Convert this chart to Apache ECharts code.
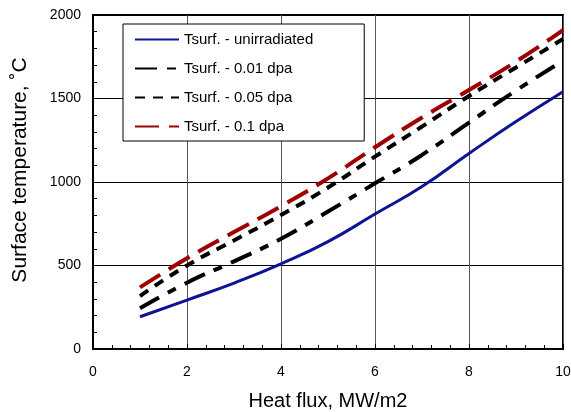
<!DOCTYPE html>
<html>
<head>
<meta charset="utf-8">
<script src="https://cdn.jsdelivr.net/npm/echarts@6/dist/echarts.min.js"></script>
<style>
	html, body { margin: 0; padding: 0; background: #fff; }
	#main { width: 571px; height: 412px; }
</style>
</head>
<body>
<div id="main"></div>
<script>
	// heat flux, MW/m2
	var heatFlux = [1, 2, 3, 4, 5, 6, 7, 8, 9, 10];
	// surface temperature, C
	var tUnirr = [193, 293, 395, 510, 643, 808, 973, 1171, 1362, 1541];
	var t001 = [244, 397, 525, 660, 823, 992, 1162, 1356, 1548, 1726];
	var t005 = [317, 500, 650, 802, 967, 1152, 1332, 1515, 1686, 1856];
	var t01 = [369, 543, 700, 855, 1022, 1208, 1386, 1551, 1721, 1910];
	var seriesNames = ['Tsurf. - unirradiated', 'Tsurf. - 0.01 dpa', 'Tsurf. - 0.05 dpa', 'Tsurf. - 0.1 dpa'];

	function pairs(ys) {
		return heatFlux.map(function (x, i) { return [x, ys[i]]; });
	}

	var myChart = echarts.init(document.getElementById('main'));

	var font = 'Liberation Sans, Arial, Helvetica, sans-serif';

	var option = {
		backgroundColor: '#fff',
		animation: false,
		textStyle: { fontFamily: font, color: '#000' },
		grid: {
			left: 93, right: 8, top: 15, bottom: 63,
			outerBoundsMode: 'none',
			show: true, borderColor: '#000', borderWidth: 2
		},
		legend: {
			orient: 'vertical',
			left: 123,
			top: 24,
			data: seriesNames,
			itemWidth: 44,
			itemHeight: 15,
			itemGap: 14,
			padding: [8, 51, 7, 11],
			borderColor: '#000',
			borderWidth: 1,
			backgroundColor: '#fff',
			itemStyle: { opacity: 0 },
			textStyle: { fontFamily: font, fontSize: 15, color: '#000' }
		},
		xAxis: {
			type: 'value',
			min: 0,
			max: 10,
			interval: 2,
			name: 'Heat flux, MW/m2',
			nameLocation: 'middle',
			nameGap: 42,
			nameTextStyle: { fontFamily: font, fontSize: 20, color: '#000' },
			axisLine: { onZero: false, lineStyle: { color: '#000', width: 2 } },
			axisTick: { inside: true, length: 5, lineStyle: { color: '#000' } },
			minorTick: { show: true, splitNumber: 5, length: 4, lineStyle: { color: '#000' } },
			axisLabel: { fontFamily: font, fontSize: 14, color: '#000', margin: 16 },
			splitLine: { show: true, lineStyle: { color: '#555', width: 1 } }
		},
		yAxis: {
			type: 'value',
			min: 0,
			max: 2000,
			interval: 500,
			name: 'Surface temperature, ˚C',
			nameLocation: 'middle',
			nameGap: 62,
			nameTextStyle: { fontFamily: font, fontSize: 21, color: '#000', padding: [0, 0, 0, 24] },
			axisLine: { onZero: false, lineStyle: { color: '#000', width: 2 } },
			axisTick: { inside: true, length: 5, lineStyle: { color: '#000' } },
			minorTick: { show: true, splitNumber: 5, length: 4, lineStyle: { color: '#000' } },
			axisLabel: {
				fontFamily: font, fontSize: 14, color: '#000', margin: 12,
				formatter: function (v) { return String(v); }
			},
			splitLine: { show: true, lineStyle: { color: '#000', width: 1 } }
		},
		series: [
			{
				name: seriesNames[0], type: 'line', smooth: true, symbol: 'none',
				data: pairs(tUnirr),
				lineStyle: { color: '#0c1494', width: 3 },
				itemStyle: { color: '#0c1494' }
			},
			{
				name: seriesNames[1], type: 'line', smooth: true, symbol: 'none',
				data: pairs(t001),
				lineStyle: { color: '#000', width: 4, type: [22, 10, 9, 10] },
				itemStyle: { color: '#000' }
			},
			{
				name: seriesNames[2], type: 'line', smooth: true, symbol: 'none',
				data: pairs(t005),
				lineStyle: { color: '#000', width: 4, type: [10, 8] },
				itemStyle: { color: '#000' }
			},
			{
				name: seriesNames[3], type: 'line', smooth: true, symbol: 'none',
				data: pairs(t01),
				lineStyle: { color: '#a00000', width: 4, type: [24, 10] },
				itemStyle: { color: '#a00000' }
			}
		]
	};

	myChart.setOption(option);
</script>
</body>
</html>
